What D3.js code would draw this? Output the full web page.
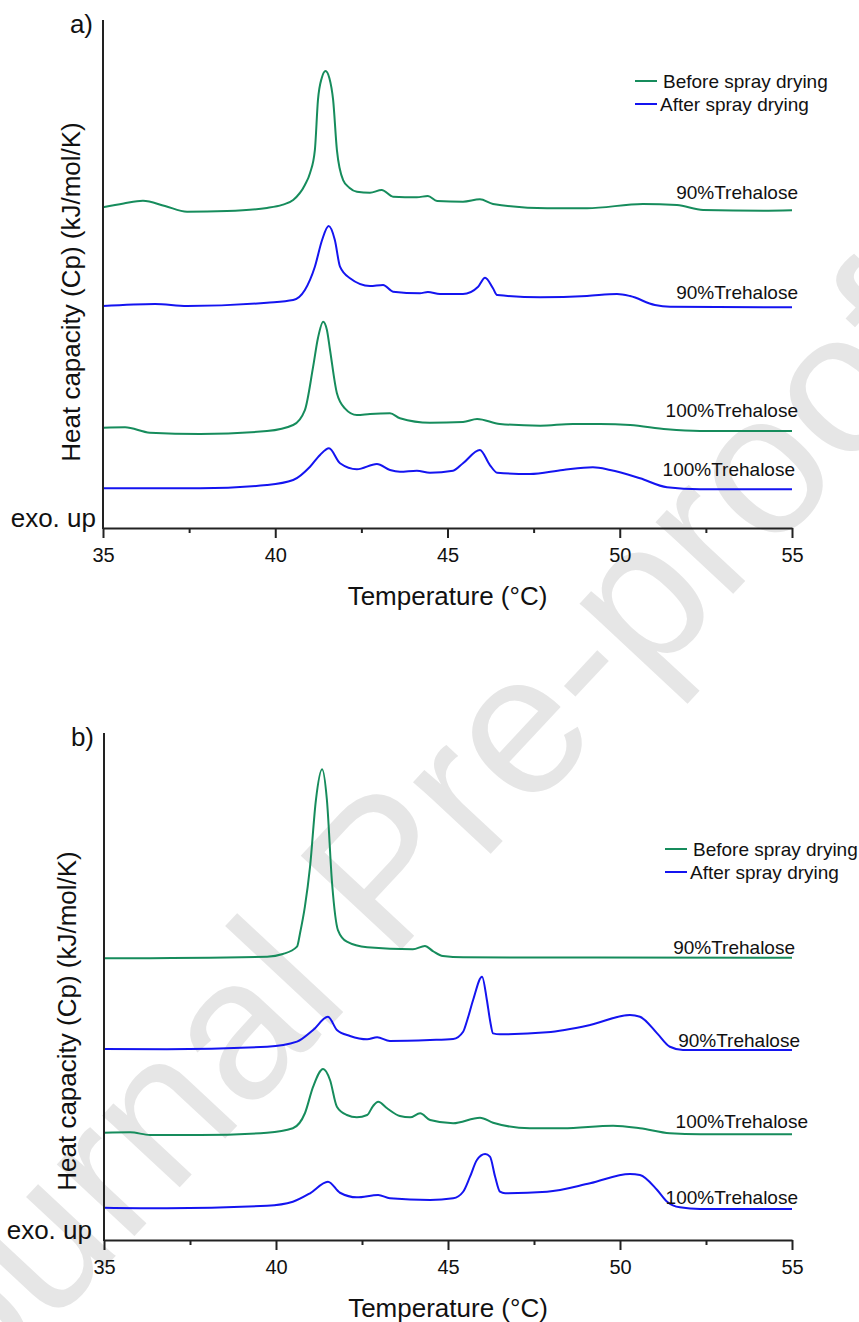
<!DOCTYPE html>
<html>
<head>
<meta charset="utf-8">
<script src="https://cdn.jsdelivr.net/npm/d3@7"></script>
<style>
  body { margin: 0; background: #fff; }
  svg { display: block; font-family: "Liberation Sans", Arial, sans-serif; }
</style>
</head>
<body>
<div id="chart"></div>
<script>
// ---- data (temperature in °C, heat capacity in stacked arbitrary units) ----
const seriesNames = ["Before spray drying", "After spray drying"];
const sampleLabels = ["90%Trehalose", "90%Trehalose", "100%Trehalose", "100%Trehalose"];
const xTicks = [35, 40, 45, 50, 55];
const xMinorTicks = [37.5, 42.5, 47.5, 52.5];

// panel a)
const a90Before = [[35,31.57],[35.6,31.95],[36.16,32.21],[36.8,31.69],[37.44,31.13],[38.6,31.2],[39.76,31.5],[40.2,31.8],[40.52,32.28],[40.86,33.76],[41.01,34.94],[41.15,37.2],[41.24,42.13],[41.35,44.3],[41.46,44.98],[41.57,44.3],[41.68,42.13],[41.79,37.2],[41.97,34.25],[42.15,33.5],[42.37,33.1],[42.75,33.0],[43.09,33.27],[43.42,32.61],[44.11,32.55],[44.43,32.68],[44.7,32.19],[45.45,32.12],[45.94,32.35],[46.32,31.89],[47.89,31.47],[49.05,31.47],[50.67,31.89],[51.66,31.79],[52.42,31.3],[54.16,31.23],[55,31.27]];
const a90After = [[35,21.85],[36.51,22.05],[37.44,21.85],[39.76,22.18],[40.52,22.44],[40.86,23.43],[41.15,25.72],[41.36,28.35],[41.55,29.72],[41.73,28.35],[41.88,25.72],[42.17,24.58],[42.75,23.82],[43.13,23.92],[43.42,23.26],[44.2,23.1],[44.43,23.23],[44.78,23.03],[45.45,23.03],[45.89,23.75],[46.09,24.64],[46.32,23.59],[46.44,22.93],[47.69,22.71],[49.05,22.83],[49.92,23.03],[50.3,22.83],[51.02,21.95],[51.46,21.78],[55,21.72]];
const a100Before = [[35,9.87],[35.64,9.91],[36.36,9.38],[37.82,9.25],[39.76,9.55],[40.52,10.14],[40.86,11.61],[41.1,15.88],[41.24,18.7],[41.39,20.31],[41.5,19.49],[41.59,17.52],[41.79,13.26],[42.02,11.78],[42.37,11.12],[42.75,11.22],[43.33,11.29],[43.62,10.8],[44.49,10.36],[45.45,10.43],[45.86,10.73],[46.52,10.24],[47.69,10.07],[48.64,10.24],[49.43,10.24],[50.3,10.14],[51.37,9.71],[52.33,9.55],[55,9.55]];
const a100After = [[35,3.91],[37.82,3.91],[39.76,4.23],[40.52,4.72],[41.01,6.03],[41.3,7.19],[41.56,7.84],[41.88,6.37],[42.37,5.78],[42.95,6.3],[43.33,5.71],[43.62,5.54],[44.11,5.64],[44.49,5.44],[45.16,5.64],[45.45,6.37],[45.94,7.68],[46.23,6.2],[46.44,5.44],[47.39,5.31],[48.35,5.71],[49.22,5.97],[49.72,5.71],[50.59,4.89],[51.37,4.01],[52.33,3.81],[55,3.81]];

// panel b)
const b90Before = [[35,27.78],[39.74,27.94],[40.2,28.2],[40.61,28.93],[40.7,30.28],[40.84,32.87],[40.99,36.82],[41.16,43.39],[41.34,46.42],[41.48,43.39],[41.63,35.18],[41.8,30.57],[42.06,29.42],[42.65,28.87],[43.98,28.67],[44.33,28.99],[44.56,28.5],[44.85,28.01],[45.44,27.88],[55,27.84]];
const b90After = [[35,18.84],[36.83,18.81],[39.74,19.06],[40.61,19.56],[41.08,20.71],[41.51,22.02],[41.77,20.71],[42.15,20.12],[42.65,19.79],[42.94,19.99],[43.31,19.63],[44.48,19.72],[45.15,19.82],[45.44,20.54],[45.56,21.7],[45.73,23.67],[45.99,25.97],[46.13,23.67],[46.22,21.7],[46.31,20.38],[46.51,20.29],[47.88,20.48],[49.13,21.2],[50.29,22.19],[50.58,22.02],[51.08,20.38],[51.45,19.06],[51.83,18.74],[55,18.74]];
const b100Before = [[35,10.58],[35.76,10.62],[36.34,10.36],[37.79,10.36],[39.74,10.58],[40.49,11.02],[40.84,12.5],[41.08,15.12],[41.37,16.86],[41.57,15.78],[41.77,13.15],[42.06,12.33],[42.35,12.1],[42.65,12.33],[42.82,13.21],[42.97,13.64],[43.23,12.99],[43.6,12.23],[43.9,12.1],[44.19,12.5],[44.48,11.83],[45.15,11.51],[45.93,12.06],[46.31,11.57],[47.38,11.02],[48.34,11.02],[49.8,11.27],[50.58,11.02],[51.45,10.52],[52.33,10.42],[55,10.42]];
const b100After = [[35,3.19],[36.83,3.13],[39.74,3.38],[40.49,3.78],[40.99,4.61],[41.51,5.75],[41.86,4.66],[42.35,4.21],[42.97,4.44],[43.31,4.11],[44.48,3.94],[45.15,4.11],[45.44,4.76],[45.64,6.24],[45.84,7.89],[46.08,8.48],[46.22,8.22],[46.37,6.24],[46.51,4.76],[46.66,4.61],[47.88,4.76],[49.13,5.59],[50.29,6.51],[50.58,6.41],[51.08,4.93],[51.37,3.78],[51.74,3.22],[52.33,3.06],[55,3.06]];

const colors = ["#168c5c", "#1414f0"];

// ---- layout ----
const width = 859, height = 1322;
const svg = d3.select("#chart").append("svg")
    .attr("width", width)
    .attr("height", height);

// watermark behind everything
svg.append("text")
    .text("Journal Pre-proof")
    .attr("transform", "translate(-95,1482) rotate(-47)")
    .attr("font-size", 200)
    .attr("fill", "#e6e6e6");

const panels = [
    {
        tag: "a)", left: 103, right: 792, top: 20, bottom: 528, yTitleX: 80, yTitleY: 292,
        exoX: 96, legendX: 635, legendY: 81,
        curves: [a90Before, a90After, a100Before, a100After],
        labelShift: [[6, 11], [6, 8], [6, 14], [3, 13]]
    },
    {
        tag: "b)", left: 104, right: 792, top: 733, bottom: 1240, yTitleX: 76, yTitleY: 1021,
        exoX: 92, legendX: 665, legendY: 849,
        curves: [b90Before, b90After, b100Before, b100After],
        labelShift: [[3, 4], [8, 3], [16, 6], [6, 5]]
    }
];

function drawPanel(p) {
    const x = d3.scaleLinear().domain([35, 55]).range([p.left, p.right]);
    const y = d3.scaleLinear().domain([0, 50]).range([p.bottom, p.top]);
    const g = svg.append("g");

    const line = d3.line()
        .x(d => x(d[0]))
        .y(d => y(d[1]))
        .curve(d3.curveMonotoneX);

    p.curves.forEach((data, i) => {
        g.append("path")
            .datum(data)
            .attr("d", line)
            .attr("fill", "none")
            .attr("stroke", colors[i % 2])
            .attr("stroke-width", 2)
            .attr("stroke-linejoin", "round");

        const last = data[data.length - 1];
        g.append("text")
            .text(sampleLabels[i])
            .attr("x", x(last[0]) + p.labelShift[i][0])
            .attr("y", y(last[1]) - p.labelShift[i][1])
            .attr("text-anchor", "end")
            .attr("font-size", 19)
            .attr("fill", "#111");
    });

    // minor ticks
    g.append("g")
        .attr("transform", `translate(0,${p.bottom})`)
        .call(d3.axisBottom(x).tickValues(xMinorTicks).tickSize(5).tickFormat(""))
        .call(s => s.select(".domain").remove())
        .call(s => s.selectAll("line").attr("stroke", "#222").attr("stroke-width", 2));

    // major ticks + labels
    const xAxis = g.append("g")
        .attr("transform", `translate(0,${p.bottom})`)
        .call(d3.axisBottom(x).tickValues(xTicks).tickSize(10).tickSizeOuter(0).tickPadding(10));
    xAxis.select(".domain").attr("stroke", "#222").attr("stroke-width", 2);
    xAxis.selectAll("line").attr("stroke", "#222").attr("stroke-width", 2);
    xAxis.selectAll("text")
        .attr("font-size", 20)
        .attr("font-family", "Liberation Sans, Arial, sans-serif")
        .attr("fill", "#111");

    // y axis: plain line
    g.append("line")
        .attr("x1", p.left).attr("x2", p.left)
        .attr("y1", p.top).attr("y2", p.bottom + 1)
        .attr("stroke", "#222")
        .attr("stroke-width", 2);

    g.append("text")
        .text("Temperature (\u00B0C)")
        .attr("x", (p.left + p.right) / 2)
        .attr("y", p.bottom + 77)
        .attr("text-anchor", "middle")
        .attr("font-size", 26)
        .attr("fill", "#111");

    g.append("text")
        .text("Heat capacity (Cp) (kJ/mol/K)")
        .attr("transform", `translate(${p.yTitleX},${p.yTitleY}) rotate(-90)`)
        .attr("text-anchor", "middle")
        .attr("font-size", 26)
        .attr("fill", "#111");

    g.append("text")
        .text(p.tag)
        .attr("x", p.left - 10)
        .attr("y", p.top + 13)
        .attr("text-anchor", "end")
        .attr("font-size", 26)
        .attr("fill", "#111");

    g.append("text")
        .text("exo. up")
        .attr("x", p.exoX)
        .attr("y", p.bottom - 1)
        .attr("text-anchor", "end")
        .attr("font-size", 26)
        .attr("fill", "#111");

    // legend
    const legend = g.append("g").attr("transform", `translate(${p.legendX},${p.legendY})`);
    seriesNames.forEach((name, i) => {
        const row = legend.append("g").attr("transform", `translate(0,${i * 23})`);
        row.append("line")
            .attr("x1", 0).attr("x2", 22)
            .attr("stroke", colors[i])
            .attr("stroke-width", 2);
        row.append("text")
            .text(name)
            .attr("x", i === 0 ? 28 : 25)
            .attr("y", 7)
            .attr("font-size", 19)
            .attr("fill", "#111");
    });
}

panels.forEach(drawPanel);
</script>
</body>
</html>
